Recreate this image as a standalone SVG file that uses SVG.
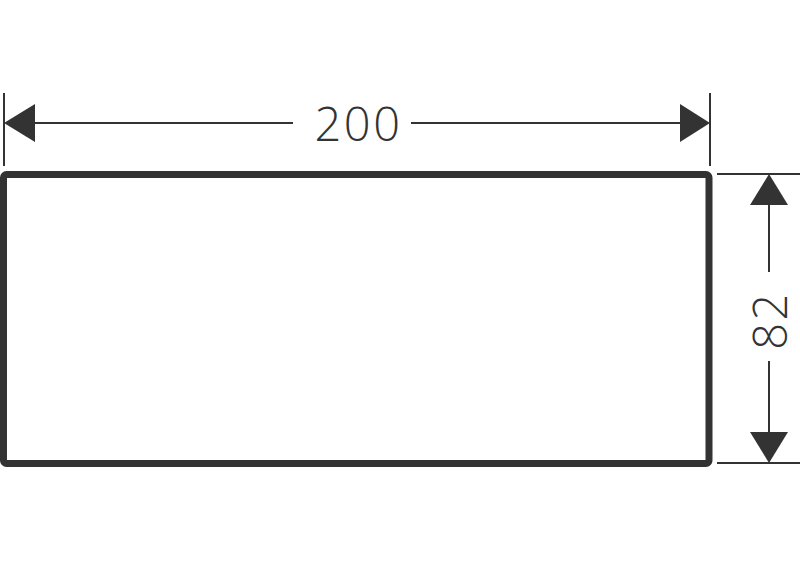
<svg xmlns="http://www.w3.org/2000/svg" width="800" height="562" viewBox="0 0 800 562">
<style>
.thin{stroke:#333;stroke-width:2;fill:none}
.head{fill:#333;stroke:none}
.lbl{font-family:"Open Sans","DejaVu Sans",sans-serif;font-weight:300;font-size:47px;fill:#333;text-anchor:middle;letter-spacing:2.5px}
</style>
<rect width="800" height="562" fill="#fff"/>
<g id="panel">
<rect x="3.5" y="174.5" width="705.5" height="289" rx="3" fill="none" stroke="#333" stroke-width="7"/>
</g>
<g id="connectors">
<line class="thin" x1="4" y1="93" x2="4" y2="166"/>
<line class="thin" x1="710" y1="93" x2="710" y2="166"/>
<line class="thin" x1="34" y1="123" x2="293" y2="123"/>
<line class="thin" x1="411" y1="123" x2="681" y2="123"/>
<polygon class="head" points="4,123 35,104 35,142"/>
<polygon class="head" points="710,123 680,104 680,142"/>
<line class="thin" x1="717" y1="174" x2="800" y2="174"/>
<line class="thin" x1="717" y1="463" x2="800" y2="463"/>
<line class="thin" x1="769" y1="204" x2="769" y2="272"/>
<line class="thin" x1="769" y1="361" x2="769" y2="433"/>
<polygon class="head" points="769,174 750,205 788,205"/>
<polygon class="head" points="769,463 750,432 788,432"/>
</g>
<g id="label-width">
<text class="lbl" x="358.5" y="141">200</text>
</g>
<g id="label-height">
<text class="lbl" transform="translate(787 320.5) rotate(-90)">82</text>
</g>
</svg>
